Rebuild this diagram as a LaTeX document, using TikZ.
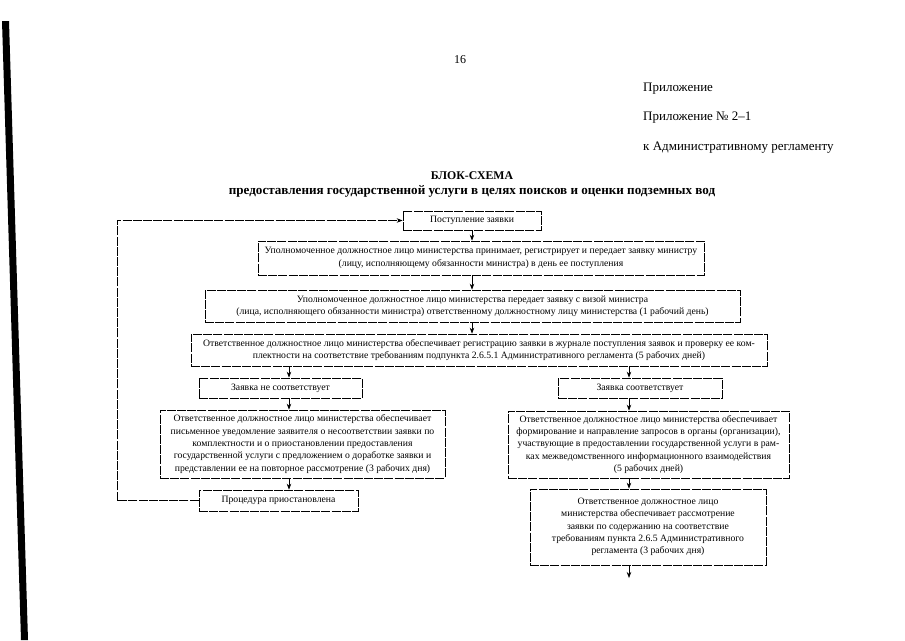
\documentclass[tikz,border=0pt]{standalone}
\usepackage{fontspec}
\setmainfont{Liberation Serif}
\usetikzlibrary{arrows.meta}
\newcommand{\bxfont}{\fontsize{9.7}{12.4}\selectfont}
\begin{document}
\begin{tikzpicture}[x=1pt,y=-1pt,
  box/.style={draw, line width=0.7pt, dash pattern=on 9pt off 1.2pt, inner sep=0pt, align=center, font=\bxfont},
  arr/.style={line width=0.7pt, -{Stealth[length=6pt,width=4.5pt]}},
  hdr/.style={anchor=west, inner sep=0pt, font=\fontsize{13}{15}\selectfont}]
\fill[white] (0,0) rectangle (905,640);
\useasboundingbox (0,0) rectangle (905,640);
% left black bar (scan edge)
\fill[black] (2,21) -- (9,21) -- (28,640) -- (21,640) -- cycle;
% header
\node[inner sep=0pt, font=\fontsize{12}{14}\selectfont] (pg) at (460,60) {16};
\node[hdr] (h1) at (643,89) {Приложение};
\node[hdr] (h2) at (643,118) {Приложение №~2–1};
\node[hdr] (h3) at (643,148) {к Административному регламенту};
\node[inner sep=0pt, font=\fontsize{11.8}{14}\selectfont\bfseries] (t1) at (472,176) {БЛОК-СХЕМА};
\node[inner sep=0pt, font=\fontsize{13.1}{15}\selectfont\bfseries] (t2) at (472,191) {предоставления государственной услуги в целях поисков и оценки подземных вод};
% boxes
\node[box, minimum width=138, minimum height=19] (b1) at (472,220.5) {Поступление заявки};
\node[box, minimum width=446, minimum height=34] (b2) at (481,258) {Уполномоченное должностное лицо министерства принимает, регистрирует и передает заявку министру\\(лицу, исполняющему обязанности министра) в день ее поступления};
\node[box, minimum width=535, minimum height=32] (b3) at (472.5,306) {Уполномоченное должностное лицо министерства передает заявку с визой министра\\(лица, исполняющего обязанности министра) ответственному должностному лицу министерства (1 рабочий день)};
\node[box, minimum width=576, minimum height=32] (b4) at (479,350) {Ответственное должностное лицо министерства обеспечивает регистрацию заявки в журнале поступления заявок и проверку ее ком-\\плектности на соответствие требованиям подпункта 2.6.5.1 Административного регламента (5 рабочих дней)};
\node[box, minimum width=163, minimum height=20] (b5l) at (280.5,388) {Заявка не соответствует};
\node[box, minimum width=164, minimum height=20] (b5r) at (640,388) {Заявка соответствует};
\node[box, minimum width=285, minimum height=68] (b6l) at (302.5,444) {Ответственное должностное лицо  министерства обеспечивает\\письменное уведомление заявителя о несоответствии заявки по\\комплектности и о приостановлении предоставления\\государственной услуги с предложением о доработке заявки и\\представлении ее на повторное рассмотрение (3 рабочих дня)};
\node[box, minimum width=281, minimum height=67] (b6r) at (648.5,444.5) {Ответственное должностное лицо  министерства обеспечивает\\формирование и направление запросов в органы (организации),\\участвующие в предоставлении государственной услуги в рам-\\ках межведомственного информационного взаимодействия\\(5 рабочих дней)};
\node[box, minimum width=159, minimum height=21] (b7l) at (278.5,500.5) {Процедура приостановлена};
\node[box, minimum width=236, minimum height=76] (b7r) at (648,527) {Ответственное должностное лицо\\министерства обеспечивает рассмотрение\\заявки по содержанию на соответствие\\требованиям пункта 2.6.5 Административного\\регламента (3 рабочих дня)};
% helper coordinates
\coordinate (cl) at (289,0);
\coordinate (cr) at (629,0);
\coordinate (fb) at (117,0);
\coordinate (endr) at (629,578);
% connectors
\draw[arr] (b1.south) -- (b1.south |- b2.north);
\draw[arr] (b1.south |- b2.south) -- (b1.south |- b3.north);
\draw[arr] (b1.south |- b3.south) -- (b1.south |- b4.north);
\draw[arr] (cl |- b4.south) -- (cl |- b5l.north);
\draw[arr] (cr |- b4.south) -- (cr |- b5r.north);
\draw[arr] (cl |- b5l.south) -- (cl |- b6l.north);
\draw[arr] (cr |- b5r.south) -- (cr |- b6r.north);
\draw[arr] (cl |- b6l.south) -- (cl |- b7l.north);
\draw[arr] (cr |- b6r.south) -- (cr |- b7r.north);
\draw[arr] (cr |- b7r.south) -- (endr);
\draw[arr, dash pattern=on 9pt off 1.2pt] (b7l.west) -- (fb |- b7l.west) -- (fb |- b1.west) -- (b1.west);
\end{tikzpicture}
\end{document}
